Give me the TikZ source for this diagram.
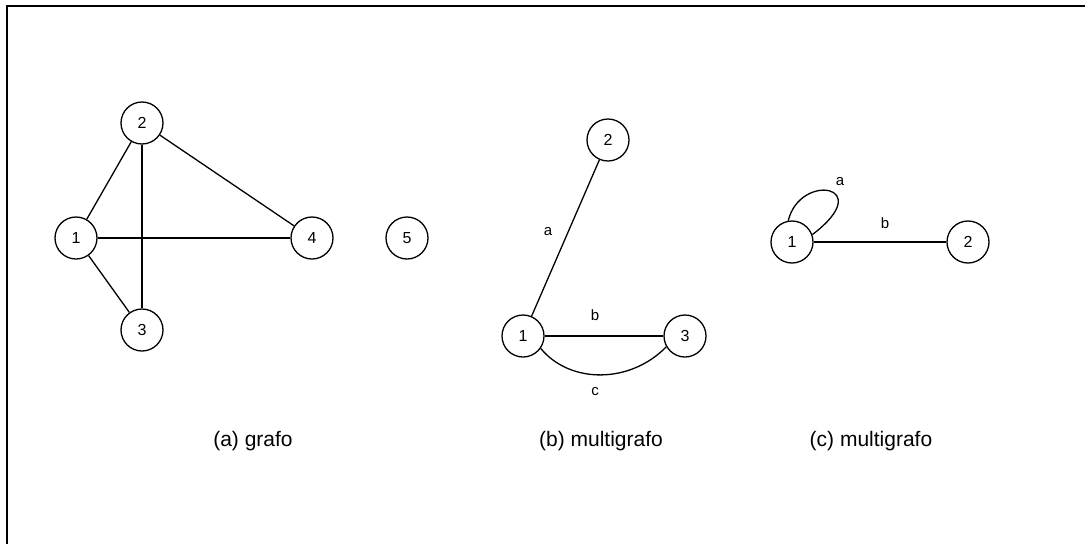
\documentclass[tikz,border=0pt]{standalone}
\usepackage{fontspec}
\setmainfont{Liberation Sans}
\begin{document}
\begin{tikzpicture}[x=1pt,y=-1pt,
  vert/.style={circle,draw,line width=1.3pt,minimum size=42pt,inner sep=0pt,font=\fontsize{16}{16}\selectfont},
  edge/.style={line width=1.3pt},
  elabel/.style={font=\fontsize{15}{15}\selectfont,inner sep=0pt},
  caption/.style={font=\fontsize{21}{21}\selectfont,inner sep=0pt}]
\useasboundingbox (0,0) rectangle (1085,544);
\coordinate (fA) at (7,544);
\coordinate (fB) at (7,6);
\coordinate (fC) at (1085,6);
\draw[line width=2.6pt] (fA) -- (fB) -- (fC);
% (a)
\node[vert] (a1) at (76,238) {1};
\node[vert] (a2) at (142,123) {2};
\node[vert] (a3) at (142,330) {3};
\node[vert] (a4) at (312,238) {4};
\node[vert] (a5) at (407,238) {5};
\draw[edge] (a1) -- (a2);
\draw[edge] (a1) -- (a3);
\draw[edge] (a1) -- (a4);
\draw[edge] (a2) -- (a3);
\draw[edge] (a2) -- (a4);
\node[caption] (capa) at (253,441) {(a) grafo};
% (b)
\node[vert] (b1) at (523,336) {1};
\node[vert] (b2) at (608,140) {2};
\node[vert] (b3) at (685,336) {3};
\draw[edge] (b1) -- (b2);
\draw[edge] (b1) -- (b3);
\draw[edge] (b1.-35) .. controls (570,384) and (630,384) .. (b3.-150);
\node[elabel] (la) at (548,232) {a};
\node[elabel] (lb) at (595,315) {b};
\node[elabel] (lc) at (595,392) {c};
\node[caption] (capb) at (601,441) {(b) multigrafo};
% (c)
\node[vert] (c1) at (792,242) {1};
\node[vert] (c2) at (968,242) {2};
\draw[edge] (c1) -- (c2);
\draw[edge] (c1.100) .. controls (800,172) and (878,185) .. (c1.20);
\node[elabel] (lca) at (840,182) {a};
\node[elabel] (lcb) at (885,223) {b};
\node[caption] (capc) at (871,441) {(c) multigrafo};
\end{tikzpicture}
\end{document}
